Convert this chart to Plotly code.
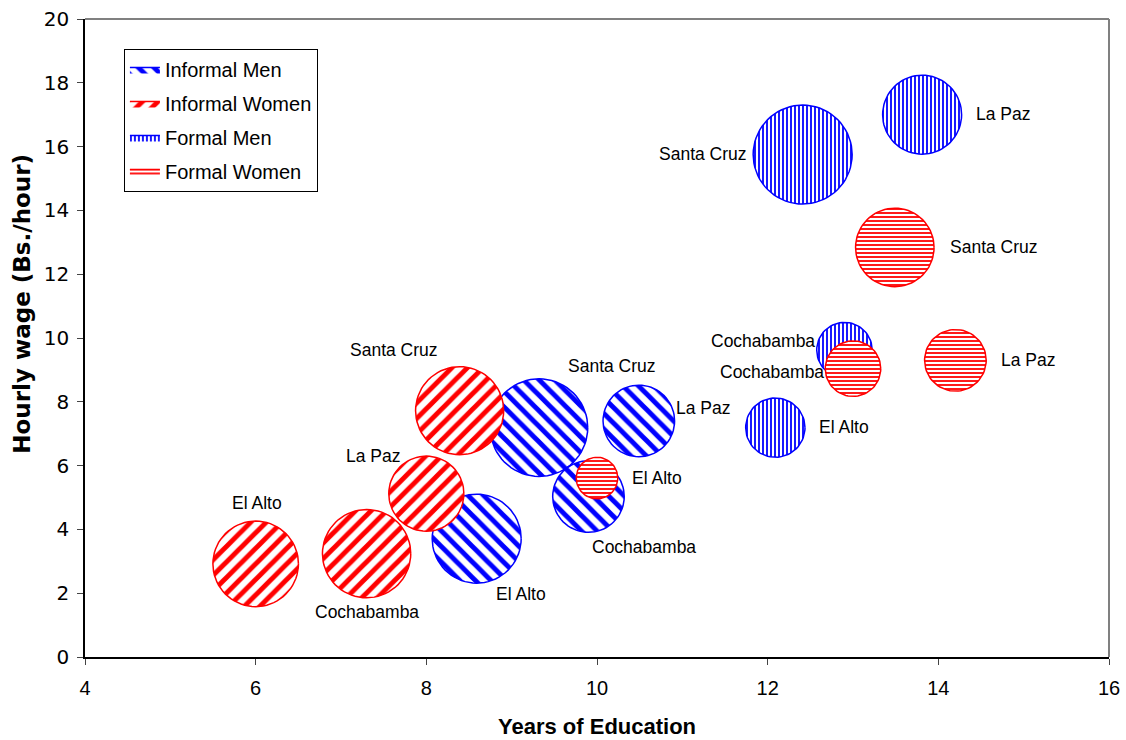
import numpy as np
import plotly.graph_objects as go

# ---------------- data ----------------
series_names = ["Informal Men", "Informal Women", "Formal Men", "Formal Women"]
cities = ["Santa Cruz", "La Paz", "Cochabamba", "El Alto"]

informal_men_edu = [9.32, 10.49, 9.90, 8.59]
informal_men_wage = [7.19, 7.40, 5.03, 3.71]
informal_men_size = [23.8, 12.8, 12.8, 19.8]

informal_women_edu = [8.39, 8.00, 7.30, 6.00]
informal_women_wage = [7.72, 5.12, 3.24, 2.92]
informal_women_size = [19.4, 14.1, 19.5, 18.3]

formal_men_edu = [12.41, 13.81, 12.90, 12.09]
formal_men_wage = [15.75, 17.00, 9.62, 7.19]
formal_men_size = [24.5, 15.6, 7.7, 8.8]

formal_women_edu = [13.49, 14.20, 13.00, 10.00]
formal_women_wage = [12.84, 9.30, 9.04, 5.61]
formal_women_size = [15.4, 9.5, 7.7, 4.3]

x_ticks = [4, 6, 8, 10, 12, 14, 16]
y_ticks = [0, 2, 4, 6, 8, 10, 12, 14, 16, 18, 20]

# ---------------- layout / style ----------------
W, H = 1126, 740
ML, MR, MT, MB = 85, 17, 19, 83
XMIN, XMAX, YMIN, YMAX = 4, 16, 0, 20
PW, PH = W - ML - MR, H - MT - MB
PX_PER_X = PW / (XMAX - XMIN)
PX_PER_Y = PH / (YMAX - YMIN)
BUBBLE_K = 10.0  # radius in px = K*sqrt(size)

BLUE = "#0000FF"
RED = "#FF0000"
styles = [
    dict(color=BLUE, shape="\\", psize=11, solid=0.45),
    dict(color=RED, shape="/", psize=11, solid=0.45),
    dict(color=BLUE, shape="|", psize=4, solid=0.45),
    dict(color=RED, shape="-", psize=4, solid=0.45),
]
# label offsets in px (dx right, dy up) per series/city
label_offsets = [
    [(73, 62), (64, 13), (56, -50), (44, -55)],
    [(-66, 61), (-53, 38), (0, -58), (1, 61)],
    [(-100, 1), (81, 1), (-81, 9), (69, 1)],
    [(99, 0), (73, 0), (-81, -3), (60, 0)],
]

all_series = [
    (informal_men_edu, informal_men_wage, informal_men_size),
    (informal_women_edu, informal_women_wage, informal_women_size),
    (formal_men_edu, formal_men_wage, formal_men_size),
    (formal_women_edu, formal_women_wage, formal_women_size),
]

fig = go.Figure()
t = np.linspace(0, 2 * np.pi, 73)
annotations = []
for si, (xs, ys, ss) in enumerate(all_series):
    st = styles[si]
    for ci in range(len(xs)):
        r = BUBBLE_K * np.sqrt(ss[ci])
        px = xs[ci] + r * np.cos(t) / PX_PER_X
        py = ys[ci] + r * np.sin(t) / PX_PER_Y
        fig.add_trace(go.Scatter(
            x=px, y=py, mode="lines", fill="toself",
            fillcolor="white",
            fillpattern=dict(shape=st["shape"], fgcolor=st["color"], bgcolor="white",
                             fgopacity=1, size=st["psize"], solidity=st["solid"]),
            line=dict(color=st["color"], width=1.5),
            name=series_names[si], legendgroup=series_names[si],
            showlegend=(ci == 0), hoverinfo="skip",
        ))
        dx, dy = label_offsets[si][ci]
        annotations.append(dict(
            x=xs[ci], y=ys[ci], xref="x", yref="y", text=cities[ci],
            showarrow=False, xshift=dx, yshift=dy,
            font=dict(family="Liberation Sans, Arial", size=17.5, color="black"),
        ))

# axis titles as annotations (to match their placement)
annotations.append(dict(
    text="<b>Hourly wage (Bs./hour)</b>", textangle=-90, showarrow=False,
    xref="paper", yref="paper", x=(22 - ML) / PW, y=(657.3 - 304) / PH,
    xanchor="center", yanchor="middle",
    font=dict(family="DejaVu Sans", size=23, color="black"),
))
annotations.append(dict(
    text="<b>Years of Education</b>", showarrow=False,
    xref="paper", yref="paper", x=(597 - ML) / PW, y=(657.3 - 727) / PH,
    xanchor="center", yanchor="middle",
    font=dict(family="Liberation Sans, Arial", size=22, color="black"),
))

fig.update_layout(
    width=W, height=H,
    margin=dict(l=ML, r=MR, t=MT, b=MB, pad=0, autoexpand=False),
    paper_bgcolor="white", plot_bgcolor="white",
    font=dict(family="Liberation Sans, Arial", color="black"),
    annotations=annotations,
    showlegend=True,
    legend=dict(
        x=0.038, y=0.953, xanchor="left", yanchor="top",
        bordercolor="black", borderwidth=1, bgcolor="white",
        font=dict(size=20, color="black"), tracegroupgap=5,
        traceorder="grouped", itemwidth=30,
    ),
    shapes=[
        dict(type="line", xref="paper", yref="paper", x0=0, x1=1, y0=1, y1=1,
             line=dict(color="#808080", width=2)),
        dict(type="line", xref="paper", yref="paper", x0=1, x1=1, y0=0, y1=1,
             line=dict(color="#808080", width=2)),
    ],
)
fig.update_xaxes(
    range=[XMIN, XMAX], tickvals=x_ticks, ticks="outside", ticklen=6,
    showline=True, linecolor="black", linewidth=1.5, showgrid=False, zeroline=False,
    tickfont=dict(size=20), ticklabelstandoff=6, automargin=False,
)
fig.update_yaxes(
    range=[YMIN, YMAX], tickvals=y_ticks, ticks="outside", ticklen=6,
    showline=True, linecolor="black", linewidth=1.5, showgrid=False, zeroline=False,
    tickfont=dict(family="DejaVu Sans", size=20), ticklabelstandoff=4, automargin=False,
)

fig.write_html("out.html", config={"displayModeBar": False},
               post_script="document.body.style.margin='0';document.body.style.overflow='hidden';")
